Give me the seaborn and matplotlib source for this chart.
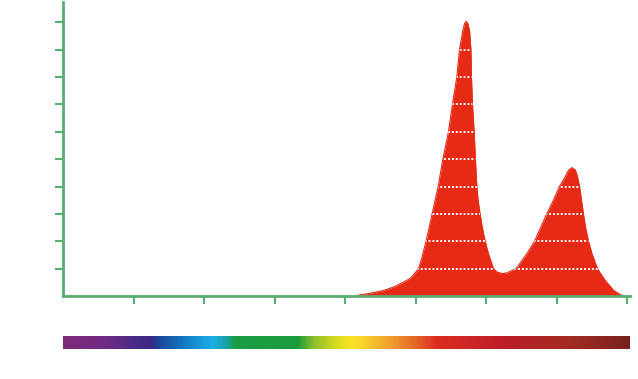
import numpy as np
import seaborn as sns
import matplotlib.pyplot as plt
from matplotlib.colors import LinearSegmentedColormap

# wavelength (nm) and relative intensity
wavelength = [587.1, 590.6, 597.7, 607.2, 615.5, 621.1, 626.1, 628.9, 632.0,
              633.9, 637.4, 639.6, 641.7, 646.0, 649.3, 653.3, 656.1, 659.2,
              661.1, 663.5, 664.8, 665.8, 666.9, 668.2, 669.2, 669.6, 670.3,
              671.5, 672.4, 673.4, 674.3, 675.7, 677.2, 679.3, 681.6, 685.2,
              687.6, 689.9, 692.1, 694.9, 698.2, 701.3, 708.9, 714.3, 718.8,
              723.0, 727.7, 732.0, 736.0, 738.4, 740.8, 743.3, 744.8, 746.2,
              747.6, 749.0, 750.4, 752.6, 755.0, 758.9, 764.4, 770.3, 775.0,
              777.9]
intensity = [0.0, 0.04, 0.10, 0.2, 0.35, 0.5, 0.64, 0.8, 1.0,
             1.3, 2.0, 2.5, 3.0, 4.0, 5.0, 6.0, 7.0, 8.0,
             9.0, 9.71, 9.97, 10.04, 9.97, 9.71, 9.0, 8.0, 7.0,
             6.0, 5.0, 4.0, 3.5, 3.0, 2.52, 2.0, 1.55, 1.0,
             0.88, 0.84, 0.82, 0.85, 0.93, 1.0, 1.55, 2.0, 2.52,
             3.0, 3.5, 4.0, 4.35, 4.6, 4.69, 4.6, 4.35, 4.0,
             3.5, 3.0, 2.52, 2.0, 1.55, 1.0, 0.57, 0.21, 0.05,
             0.0]

x_ticks = [430, 480, 530, 580, 630, 680, 730, 780]
y_ticks = [1, 2, 3, 4, 5, 6, 7, 8, 9, 10]

# spectrum bar colour stops (fraction of 380-780 nm)
spec_pos = [0, .074, .132, .157, .162, .203, .263, .286, .303, .413, .441,
            .483, .506, .524, .577, .624, .660, .776, .899, 1.0]
spec_col = ['#7e2a78', '#6e2a84', '#452a85', '#3a2a88', '#1f3f92', '#1470bc',
            '#1bb0e6', '#19a0a8', '#1a9c44', '#1a9c3c', '#8cbe2c', '#d8dc20',
            '#f6e423', '#fbd82a', '#f0a030', '#e46428', '#dc2c20', '#be1e28',
            '#a02c20', '#782220']

sns.set_style('white')
green = '#5aae72'
red = '#e62a16'

fig = plt.figure(figsize=(6.38, 3.79), dpi=100)
W, H = 638, 379
ax = fig.add_axes([63 / W, (H - 296) / H, (630 - 63) / W, 294 / H])

sns.lineplot(x=wavelength, y=intensity, color=red, linewidth=0.8, ax=ax)
poly = ax.fill_between(wavelength, intensity, 0, color=red, linewidth=0)

# dotted white levels, only visible inside the filled area
lines = ax.hlines(y_ticks, 380, 782, colors='white', linewidth=1.4,
                  linestyles=(0, (1, 1)))
lines.set_clip_path(poly.get_paths()[0], poly.get_transform())

ax.set_xlim(380, 782)
ax.set_ylim(0, 10.74)
ax.set_xticks(x_ticks)
ax.set_yticks(y_ticks)
ax.set_xticklabels([])
ax.set_yticklabels([])
ax.tick_params(axis='both', direction='out', length=6, width=1.5, color=green,
               bottom=True, left=True)
for side in ['top', 'right']:
    ax.spines[side].set_visible(False)
for side in ['left', 'bottom']:
    ax.spines[side].set_color(green)
    ax.spines[side].set_linewidth(2)

# colour spectrum bar below
cax = fig.add_axes([63 / W, (H - 349) / H, (630 - 63) / W, 13 / H])
cmap = LinearSegmentedColormap.from_list('spec', list(zip(spec_pos, spec_col)))
cax.imshow(np.linspace(0, 1, 600)[None, :], aspect='auto', cmap=cmap,
           extent=[380, 782, 0, 1])
cax.axis('off')

fig.savefig('out.png', dpi=100)
